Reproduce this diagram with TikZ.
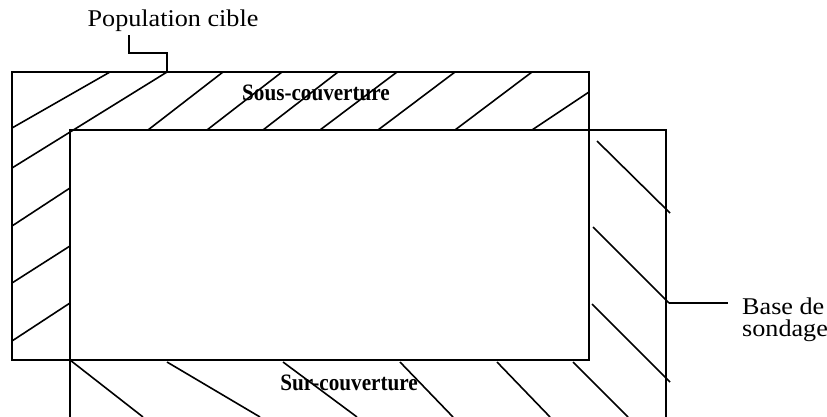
\documentclass[tikz,border=0pt]{standalone}
\usepackage{fontspec}
\setmainfont{Liberation Serif}
\newfontfamily\lblfont[FakeStretch=1.09]{Liberation Serif}
\newfontfamily\tagfont[FakeStretch=0.9]{Liberation Serif}
\begin{document}
\begin{tikzpicture}[x=1pt,y=-1pt,
  frame/.style={line width=1.9pt},
  hatch/.style={line width=1.6pt},
  conn/.style={line width=1.6pt},
  lbl/.style={inner sep=0pt,font=\lblfont\fontsize{24}{22}\selectfont},
  tag/.style={inner sep=0pt,font=\tagfont\bfseries\fontsize{23.5}{26}\selectfont}]
\useasboundingbox (0,0) rectangle (827,417);
\clip (0,0) rectangle (827,417);

% hatching of the under-coverage strip (top and left)
\foreach \ax/\ay/\bx/\by in {12/128/110/72, 12/168/167/72, 148/130/223/72,
    207/130/282/72, 263/130/338/72, 320/130/397/72, 378/130/455/72,
    455/130/532/72, 532/130/589/92, 12/226/70/188, 12/283/70/246, 12/341/70/303}
  \draw[hatch] (\ax,\ay) -- (\bx,\by);

% hatching of the over-coverage strip (right and bottom)
\foreach \ax/\ay/\bx/\by in {597/141/670/213, 593/227/669/303, 592/304/670/382,
    70/360/143/417, 167/362/260/417, 283/362/357/417, 400/362/453/417,
    497/362/550/417, 573/362/628/417}
  \draw[hatch] (\ax,\ay) -- (\bx,\by);

% target population and sampling frame
\node[frame,draw,rectangle,inner sep=0pt,minimum width=577pt,minimum height=288pt]
  (pop) at (300.5,216) {};
\draw[frame] (70,417) -- (70,130) -- (666,130) -- (666,417);
\coordinate (base) at (666,303);

% labels
\node[lbl,anchor=base] (popl) at (173,27) {Population cible};
\node[lbl,anchor=north west,align=left] (basel) at (742,298) {Base de\\sondage};
\node[tag,anchor=base] (sous) at (316,101) {Sous-couverture};
\node[tag,anchor=base] (sur) at (349,390) {Sur-couverture};

% leaders
\coordinate (popedge) at (167,72);
\coordinate (popfoot) at (129,35);
\coordinate (basefoot) at (728,303);
\draw[conn] (popedge) -- ++(0,-19) -| (popfoot);
\draw[conn] (base) ++(3,0) -- (basefoot);
\end{tikzpicture}
\end{document}
